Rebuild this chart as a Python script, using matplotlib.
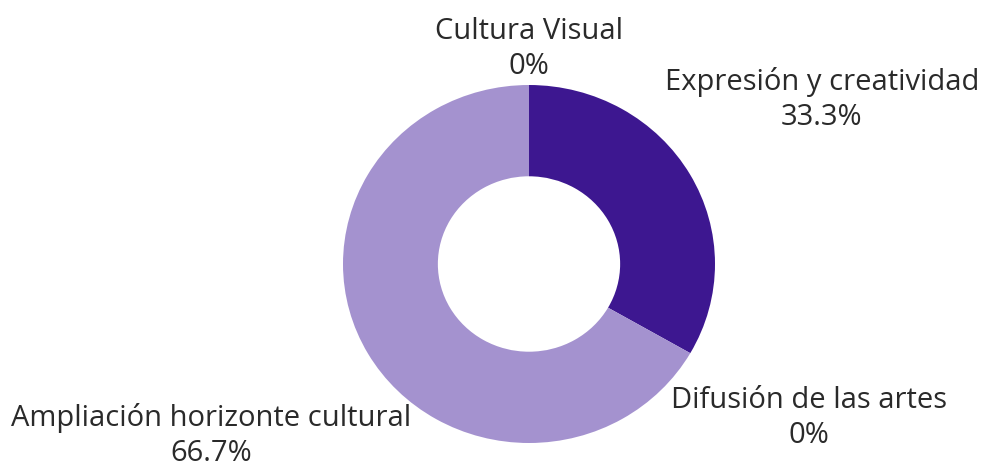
import matplotlib.pyplot as plt

# slices, clockwise from 12 o'clock
labels = ['Expresión y creatividad', 'Difusión de las artes',
          'Ampliación horizonte cultural', 'Cultura Visual']
shares = [33.3, 0.0, 66.7, 0.0]
pct_text = ['33.3%', '0%', '66.7%', '0%']
colors = ['#3d1790', '#3d1790', '#a492cf', '#a492cf']

# where each label sits (data units, pie radius = 1)
label_pos = [(1.575, 0.92), (1.505, -0.86), (-1.71, -0.96), (0.0, 1.20)]

plt.rcParams['font.family'] = ['Open Sans', 'DejaVu Sans']

fig = plt.figure(figsize=(9.84, 4.68), dpi=100)
ax = fig.add_axes([0, 0, 1, 1])

ax.pie(shares, colors=colors, startangle=90, counterclock=False,
       radius=1.0, wedgeprops=dict(width=0.51, linewidth=0))

for name, pct, (x, y) in zip(labels, pct_text, label_pos):
    ax.text(x, y, name + '\n' + pct, ha='center', va='center',
            fontsize=21, color='#2a2a2a', linespacing=1.28)

# image is slightly wider than tall -> keep aspect auto
cx, cy = 529, 204
rx, ry = 186, 179
ax.set_aspect('auto')
ax.set_xlim(-cx / rx, (984 - cx) / rx)
ax.set_ylim(-cy / ry, (468 - cy) / ry)
ax.axis('off')

fig.savefig('out.png', dpi=100, facecolor='white')
